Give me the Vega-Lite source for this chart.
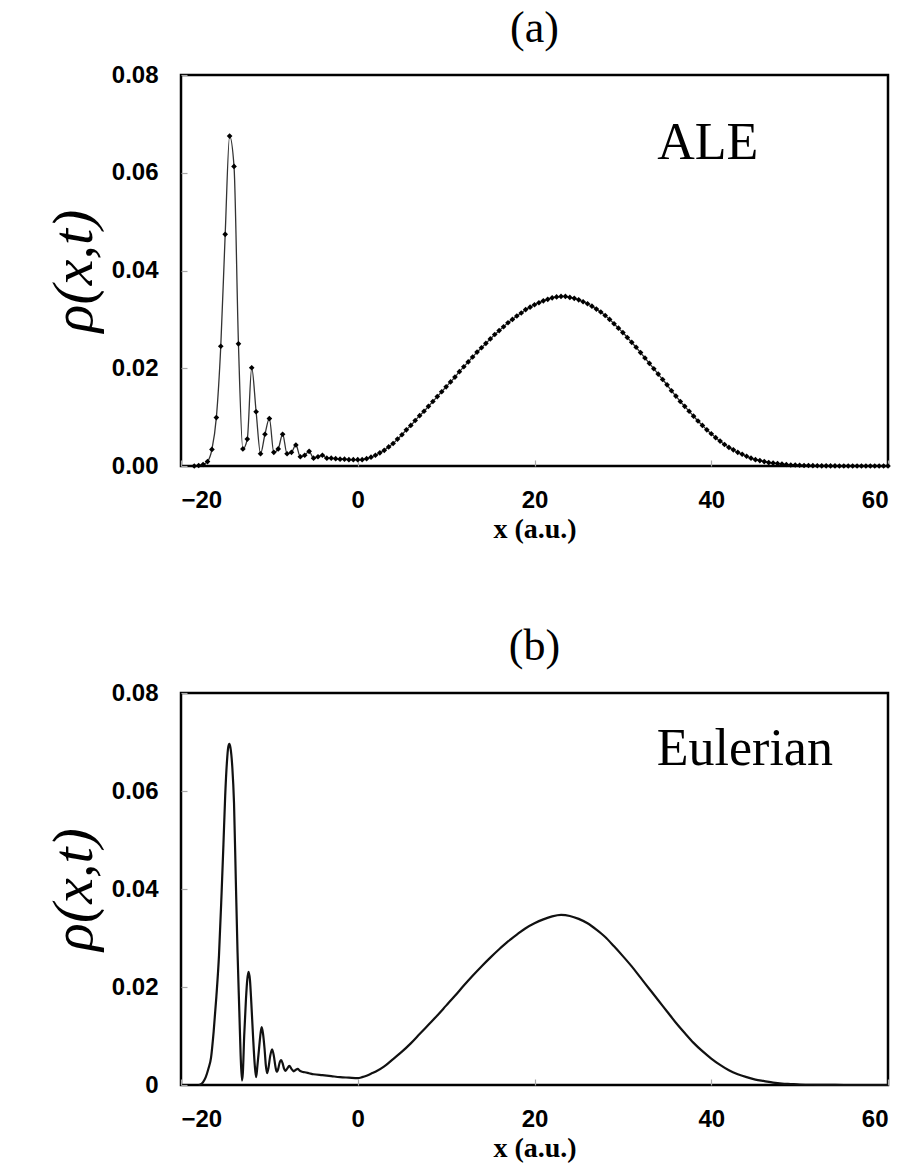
{
  "$schema": "https://vega.github.io/schema/vega-lite/v6.json",
  "background": "white",
  "padding": {"left": 44, "top": 5, "right": 0, "bottom": 4},
  "spacing": 78,
  "config": {
    "view": {"stroke": "black", "strokeWidth": 2.5},
    "axis": {
      "grid": false,
      "domain": false,
      "ticks": true,
      "tickSize": -6,
      "tickColor": "#a8a8a8",
      "tickWidth": 1.2,
      "labelFont": "Liberation Sans",
      "labelFontWeight": "bold",
      "labelFontSize": 24,
      "labelColor": "black",
      "titleColor": "black"
    },
    "title": {"font": "Liberation Serif", "fontSize": 44, "fontWeight": "normal", "color": "black", "anchor": "middle", "offset": 12}
  },
  "datasets": {
    "a": [
      {"x": -18.5, "rho": 0}, {"x": -18, "rho": 0.0001}, {"x": -17.5, "rho": 0.0003}, {"x": -17, "rho": 0.0009},
      {"x": -16.5, "rho": 0.0034}, {"x": -16, "rho": 0.0099}, {"x": -15.5, "rho": 0.0245}, {"x": -15, "rho": 0.0474},
      {"x": -14.5, "rho": 0.0675}, {"x": -14, "rho": 0.0613}, {"x": -13.5, "rho": 0.025}, {"x": -13, "rho": 0.0035},
      {"x": -12.5, "rho": 0.0055}, {"x": -12, "rho": 0.0201}, {"x": -11.5, "rho": 0.0111}, {"x": -11, "rho": 0.0025},
      {"x": -10.5, "rho": 0.0065}, {"x": -10, "rho": 0.0097}, {"x": -9.5, "rho": 0.0028}, {"x": -9, "rho": 0.0035},
      {"x": -8.5, "rho": 0.0065}, {"x": -8, "rho": 0.0025}, {"x": -7.5, "rho": 0.0028}, {"x": -7, "rho": 0.0043},
      {"x": -6.5, "rho": 0.0019}, {"x": -6, "rho": 0.0022}, {"x": -5.5, "rho": 0.003}, {"x": -5, "rho": 0.0016},
      {"x": -4.5, "rho": 0.0019}, {"x": -4, "rho": 0.0022}, {"x": -3.5, "rho": 0.0016}, {"x": -3, "rho": 0.0016},
      {"x": -2.5, "rho": 0.0015}, {"x": -2, "rho": 0.0014}, {"x": -1.5, "rho": 0.0014}, {"x": -1, "rho": 0.0013},
      {"x": -0.5, "rho": 0.0013}, {"x": 0, "rho": 0.0013}, {"x": 0.5, "rho": 0.0013}, {"x": 1, "rho": 0.0015},
      {"x": 1.5, "rho": 0.0018}, {"x": 2, "rho": 0.0022}, {"x": 2.5, "rho": 0.0027}, {"x": 3, "rho": 0.0032},
      {"x": 3.5, "rho": 0.0039}, {"x": 4, "rho": 0.0046}, {"x": 4.5, "rho": 0.0055}, {"x": 5, "rho": 0.0064},
      {"x": 5.5, "rho": 0.0074}, {"x": 6, "rho": 0.0083}, {"x": 6.5, "rho": 0.0093}, {"x": 7, "rho": 0.0103},
      {"x": 7.5, "rho": 0.0112}, {"x": 8, "rho": 0.0122}, {"x": 8.5, "rho": 0.0132}, {"x": 9, "rho": 0.0142},
      {"x": 9.5, "rho": 0.0152}, {"x": 10, "rho": 0.0162}, {"x": 10.5, "rho": 0.0172}, {"x": 11, "rho": 0.0182},
      {"x": 11.5, "rho": 0.0193}, {"x": 12, "rho": 0.0203}, {"x": 12.5, "rho": 0.0213}, {"x": 13, "rho": 0.0223},
      {"x": 13.5, "rho": 0.0233}, {"x": 14, "rho": 0.0242}, {"x": 14.5, "rho": 0.0251}, {"x": 15, "rho": 0.026},
      {"x": 15.5, "rho": 0.0269}, {"x": 16, "rho": 0.0277}, {"x": 16.5, "rho": 0.0285}, {"x": 17, "rho": 0.0293},
      {"x": 17.5, "rho": 0.03}, {"x": 18, "rho": 0.0307}, {"x": 18.5, "rho": 0.0313}, {"x": 19, "rho": 0.032},
      {"x": 19.5, "rho": 0.0325}, {"x": 20, "rho": 0.033}, {"x": 20.5, "rho": 0.0334}, {"x": 21, "rho": 0.0338},
      {"x": 21.5, "rho": 0.0341}, {"x": 22, "rho": 0.0344}, {"x": 22.5, "rho": 0.0346}, {"x": 23, "rho": 0.0347},
      {"x": 23.5, "rho": 0.0347}, {"x": 24, "rho": 0.0345}, {"x": 24.5, "rho": 0.0343}, {"x": 25, "rho": 0.034},
      {"x": 25.5, "rho": 0.0336}, {"x": 26, "rho": 0.0332}, {"x": 26.5, "rho": 0.0327}, {"x": 27, "rho": 0.0321},
      {"x": 27.5, "rho": 0.0315}, {"x": 28, "rho": 0.0308}, {"x": 28.5, "rho": 0.03}, {"x": 29, "rho": 0.0291},
      {"x": 29.5, "rho": 0.0282}, {"x": 30, "rho": 0.0273}, {"x": 30.5, "rho": 0.0263}, {"x": 31, "rho": 0.0253},
      {"x": 31.5, "rho": 0.0243}, {"x": 32, "rho": 0.0232}, {"x": 32.5, "rho": 0.0221}, {"x": 33, "rho": 0.021},
      {"x": 33.5, "rho": 0.0199}, {"x": 34, "rho": 0.0188}, {"x": 34.5, "rho": 0.0177}, {"x": 35, "rho": 0.0166},
      {"x": 35.5, "rho": 0.0154}, {"x": 36, "rho": 0.0143}, {"x": 36.5, "rho": 0.0132}, {"x": 37, "rho": 0.0122},
      {"x": 37.5, "rho": 0.0112}, {"x": 38, "rho": 0.0102}, {"x": 38.5, "rho": 0.0092}, {"x": 39, "rho": 0.0083},
      {"x": 39.5, "rho": 0.0074}, {"x": 40, "rho": 0.0066}, {"x": 40.5, "rho": 0.0058}, {"x": 41, "rho": 0.0051},
      {"x": 41.5, "rho": 0.0044}, {"x": 42, "rho": 0.0038}, {"x": 42.5, "rho": 0.0033}, {"x": 43, "rho": 0.0028},
      {"x": 43.5, "rho": 0.0024}, {"x": 44, "rho": 0.002}, {"x": 44.5, "rho": 0.0016}, {"x": 45, "rho": 0.0013},
      {"x": 45.5, "rho": 0.0011}, {"x": 46, "rho": 0.0009}, {"x": 46.5, "rho": 0.0007}, {"x": 47, "rho": 0.0006},
      {"x": 47.5, "rho": 0.0005}, {"x": 48, "rho": 0.0004}, {"x": 48.5, "rho": 0.0003}, {"x": 49, "rho": 0.0002},
      {"x": 49.5, "rho": 0.0002}, {"x": 50, "rho": 0.00015}, {"x": 50.5, "rho": 0.0001}, {"x": 51, "rho": 0.0001},
      {"x": 51.5, "rho": 0.00007}, {"x": 52, "rho": 0.00005}, {"x": 52.5, "rho": 0.00004}, {"x": 53, "rho": 0.00003},
      {"x": 53.5, "rho": 0.00002}, {"x": 54, "rho": 0.00001}, {"x": 54.5, "rho": 0}, {"x": 55, "rho": 0},
      {"x": 55.5, "rho": 0}, {"x": 56, "rho": 0}, {"x": 56.5, "rho": 0}, {"x": 57, "rho": 0},
      {"x": 57.5, "rho": 0}, {"x": 58, "rho": 0}, {"x": 58.5, "rho": 0}, {"x": 59, "rho": 0},
      {"x": 59.5, "rho": 0}, {"x": 60, "rho": 0}
    ],
    "b": [
      {"x": -18, "rho": 0}, {"x": -17.8, "rho": 0.0001}, {"x": -17.5, "rho": 0.0006}, {"x": -17.2, "rho": 0.0016},
      {"x": -16.9, "rho": 0.0033}, {"x": -16.6, "rho": 0.0056}, {"x": -16.3, "rho": 0.011}, {"x": -16.0, "rho": 0.018},
      {"x": -15.7, "rho": 0.0265}, {"x": -15.4, "rho": 0.0395}, {"x": -15.2, "rho": 0.049}, {"x": -15.0, "rho": 0.059},
      {"x": -14.8, "rho": 0.066}, {"x": -14.65, "rho": 0.069}, {"x": -14.53, "rho": 0.0696}, {"x": -14.4, "rho": 0.0688},
      {"x": -14.2, "rho": 0.065}, {"x": -14.0, "rho": 0.0575}, {"x": -13.8, "rho": 0.042}, {"x": -13.6, "rho": 0.027},
      {"x": -13.4, "rho": 0.015}, {"x": -13.25, "rho": 0.006}, {"x": -13.1, "rho": 0.0009}, {"x": -13.0, "rho": 0.0025},
      {"x": -12.85, "rho": 0.01}, {"x": -12.65, "rho": 0.0175}, {"x": -12.5, "rho": 0.0215}, {"x": -12.36, "rho": 0.0231},
      {"x": -12.2, "rho": 0.0215}, {"x": -12.05, "rho": 0.017}, {"x": -11.85, "rho": 0.01}, {"x": -11.65, "rho": 0.004},
      {"x": -11.5, "rho": 0.0016}, {"x": -11.35, "rho": 0.004}, {"x": -11.15, "rho": 0.0078}, {"x": -11.0, "rho": 0.0105},
      {"x": -10.87, "rho": 0.0118}, {"x": -10.72, "rho": 0.0105}, {"x": -10.55, "rho": 0.0075}, {"x": -10.4, "rho": 0.004},
      {"x": -10.26, "rho": 0.0024}, {"x": -10.1, "rho": 0.0035}, {"x": -9.9, "rho": 0.006}, {"x": -9.69, "rho": 0.0073},
      {"x": -9.5, "rho": 0.006}, {"x": -9.3, "rho": 0.0036}, {"x": -9.17, "rho": 0.0027}, {"x": -9.0, "rho": 0.0033},
      {"x": -8.85, "rho": 0.0045}, {"x": -8.67, "rho": 0.0051}, {"x": -8.5, "rho": 0.0044}, {"x": -8.33, "rho": 0.0033},
      {"x": -8.19, "rho": 0.0029}, {"x": -8.0, "rho": 0.0033}, {"x": -7.74, "rho": 0.0039}, {"x": -7.5, "rho": 0.0033},
      {"x": -7.25, "rho": 0.0028}, {"x": -7.0, "rho": 0.0031}, {"x": -6.8, "rho": 0.0033}, {"x": -6.55, "rho": 0.0029},
      {"x": -6.3, "rho": 0.0027}, {"x": -6.0, "rho": 0.0026}, {"x": -5.5, "rho": 0.0024}, {"x": -5.0, "rho": 0.0022},
      {"x": -4.0, "rho": 0.002}, {"x": -3.0, "rho": 0.0018}, {"x": -2.0, "rho": 0.0016}, {"x": -1.0, "rho": 0.0015},
      {"x": 0.0, "rho": 0.0014}, {"x": 0.5, "rho": 0.0016}, {"x": 1.0, "rho": 0.0019}, {"x": 1.5, "rho": 0.0023},
      {"x": 2.0, "rho": 0.0027}, {"x": 3.0, "rho": 0.0038}, {"x": 4.0, "rho": 0.0053}, {"x": 5.0, "rho": 0.0068},
      {"x": 6.0, "rho": 0.0085}, {"x": 7.0, "rho": 0.0104}, {"x": 8.0, "rho": 0.0123}, {"x": 9.0, "rho": 0.0142},
      {"x": 10.0, "rho": 0.0162}, {"x": 11.0, "rho": 0.0182}, {"x": 12.0, "rho": 0.0203}, {"x": 13.0, "rho": 0.0223},
      {"x": 14.0, "rho": 0.0242}, {"x": 15.0, "rho": 0.026}, {"x": 16.0, "rho": 0.0277}, {"x": 17.0, "rho": 0.0293},
      {"x": 18.0, "rho": 0.0307}, {"x": 19.0, "rho": 0.032}, {"x": 20.0, "rho": 0.033}, {"x": 21.0, "rho": 0.0338},
      {"x": 22.0, "rho": 0.0344}, {"x": 23.0, "rho": 0.0347}, {"x": 24.0, "rho": 0.0345}, {"x": 25.0, "rho": 0.0339},
      {"x": 26.0, "rho": 0.033}, {"x": 27.0, "rho": 0.0317}, {"x": 28.0, "rho": 0.0302}, {"x": 29.0, "rho": 0.0283},
      {"x": 30.0, "rho": 0.0263}, {"x": 31.0, "rho": 0.0242}, {"x": 32.0, "rho": 0.0219}, {"x": 33.0, "rho": 0.0196},
      {"x": 34.0, "rho": 0.0173}, {"x": 35.0, "rho": 0.015}, {"x": 36.0, "rho": 0.0127}, {"x": 37.0, "rho": 0.0106},
      {"x": 38.0, "rho": 0.0086}, {"x": 39.0, "rho": 0.0069}, {"x": 40.0, "rho": 0.0054}, {"x": 41.0, "rho": 0.0041},
      {"x": 42.0, "rho": 0.003}, {"x": 43.0, "rho": 0.0022}, {"x": 44.0, "rho": 0.0016}, {"x": 45.0, "rho": 0.0011},
      {"x": 46.0, "rho": 0.0008}, {"x": 47.0, "rho": 0.0005}, {"x": 48.0, "rho": 0.0003}, {"x": 49.0, "rho": 0.0002},
      {"x": 50.0, "rho": 0.0001}, {"x": 52.0, "rho": 0.00004}, {"x": 54.0, "rho": 0.00001}, {"x": 56.0, "rho": 0},
      {"x": 58.0, "rho": 0}, {"x": 60.0, "rho": 0}
    ]
  },
  "vconcat": [
    {
      "title": {"text": "(a)"},
      "width": 707,
      "height": 391,
      "encoding": {
        "x": {"field": "x", "type": "quantitative", "scale": {"domain": [-20, 60], "nice": false, "zero": false},
          "axis": {"values": [-20, 0, 20, 40, 60], "labelPadding": 28, "title": "x (a.u.)", "titleFont": "Liberation Serif", "titleFontWeight": "bold", "titleFontSize": 28, "titlePadding": 3}},
        "y": {"field": "rho", "type": "quantitative", "scale": {"domain": [0, 0.08], "nice": false},
          "axis": {"values": [0, 0.02, 0.04, 0.06, 0.08], "format": ".2f", "labelPadding": 29, "title": "ρ(x,t)", "titleFont": "Liberation Serif", "titleFontStyle": "italic", "titleFontWeight": "normal", "titleFontSize": 58, "titlePadding": 8}}
      },
      "layer": [
        {"data": {"name": "a"}, "mark": {"type": "line", "interpolate": "monotone", "color": "#333333", "strokeWidth": 1.3}},
        {"data": {"name": "a"}, "mark": {"type": "point", "shape": "diamond", "filled": true, "color": "black", "size": 32, "opacity": 1}},
        {"data": {"values": [{"x": 39.6, "rho": 0.0628, "label": "ALE"}]},
          "mark": {"type": "text", "font": "Liberation Serif", "fontSize": 52, "align": "center", "baseline": "alphabetic", "color": "black"},
          "encoding": {"text": {"field": "label"}}}
      ]
    },
    {
      "title": {"text": "(b)"},
      "width": 707,
      "height": 392,
      "encoding": {
        "x": {"field": "x", "type": "quantitative", "scale": {"domain": [-20, 60], "nice": false, "zero": false},
          "axis": {"values": [-20, 0, 20, 40, 60], "labelPadding": 28, "title": "x (a.u.)", "titleFont": "Liberation Serif", "titleFontWeight": "bold", "titleFontSize": 28, "titlePadding": 3}},
        "y": {"field": "rho", "type": "quantitative", "scale": {"domain": [0, 0.08], "nice": false},
          "axis": {"values": [0, 0.02, 0.04, 0.06, 0.08], "labelExpr": "datum.value == 0 ? '0' : format(datum.value, '.2f')", "labelPadding": 29, "title": "ρ(x,t)", "titleFont": "Liberation Serif", "titleFontStyle": "italic", "titleFontWeight": "normal", "titleFontSize": 58, "titlePadding": 8}}
      },
      "layer": [
        {"data": {"name": "b"}, "mark": {"type": "line", "interpolate": "monotone", "color": "#111111", "strokeWidth": 2.2}},
        {"data": {"values": [{"x": 43.8, "rho": 0.0653, "label": "Eulerian"}]},
          "mark": {"type": "text", "font": "Liberation Serif", "fontSize": 52, "align": "center", "baseline": "alphabetic", "color": "black"},
          "encoding": {"text": {"field": "label"}}}
      ]
    }
  ]
}
